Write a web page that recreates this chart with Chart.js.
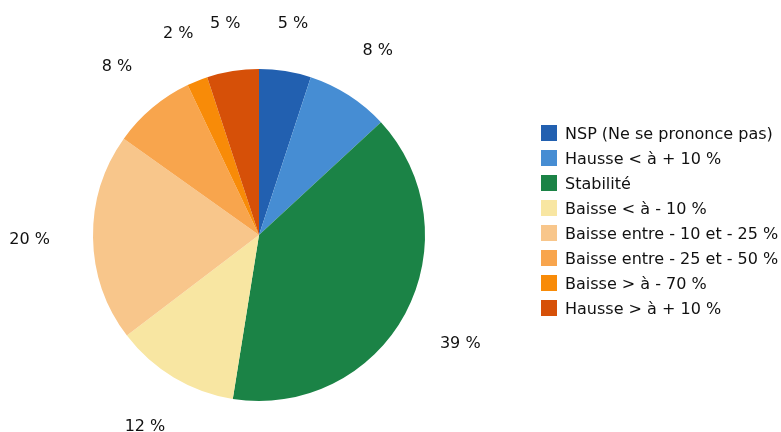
<!DOCTYPE html>
<html>
<head>
<meta charset="utf-8">
<script src="https://cdn.jsdelivr.net/npm/chart.js@4"></script>
<style>
    body { margin: 0; background: #fff; }
    #wrap { position: relative; width: 781px; height: 432px; }
    #pieChart { position: absolute; left: 0; top: 0; }
    #legend { position: absolute; left: 541px; top: 125px; margin: 0; padding: 0; list-style: none;
        font-family: "DejaVu Sans", sans-serif; font-size: 16px; color: #111; }
    #legend li { display: flex; align-items: center; height: 16px; margin-bottom: 9px; white-space: nowrap; }
    #legend .box { width: 16px; height: 16px; margin-right: 8px; flex: none; }
</style>
</head>
<body>
<div id="wrap">
    <canvas id="pieChart" width="781" height="432"></canvas>
    <ul id="legend"></ul>
</div>
<script>
const categories = [
    'NSP (Ne se prononce pas)',
    'Hausse < à + 10 %',
    'Stabilité',
    'Baisse < à - 10 %',
    'Baisse entre - 10 et - 25 %',
    'Baisse entre - 25 et - 50 %',
    'Baisse > à - 70 %',
    'Hausse > à + 10 %'
];
const shares = [5, 8, 39, 12, 20, 8, 2, 5];
const sliceColors = ['#2260b0', '#468dd3', '#1b8346', '#f8e6a2', '#f8c68b', '#f8a54d', '#f88b08', '#d65008'];

// percentage labels outside each slice
const outsideLabels = {
    id: 'outsideLabels',
    afterDatasetsDraw(chart) {
        const ctx = chart.ctx;
        const meta = chart.getDatasetMeta(0);
        ctx.save();
        ctx.font = '16px "DejaVu Sans", sans-serif';
        ctx.fillStyle = '#111';
        ctx.textAlign = 'center';
        ctx.textBaseline = 'middle';
        meta.data.forEach((arc, i) => {
            const p = arc.getProps(['x', 'y', 'startAngle', 'endAngle', 'outerRadius'], true);
            const mid = (p.startAngle + p.endAngle) / 2;
            const ux = Math.cos(mid);
            const uy = Math.sin(mid);
            const text = shares[i] + ' %';
            const w = ctx.measureText(text).width;
            const r = p.outerRadius + 43 + Math.abs(ux) * w / 2 + Math.abs(uy) * 3;
            ctx.fillText(text, p.x + ux * r, p.y + uy * r + 1);
        });
        ctx.restore();
    }
};

new Chart(document.getElementById('pieChart'), {
    type: 'pie',
    data: {
        labels: categories,
        datasets: [{
            data: shares,
            backgroundColor: sliceColors,
            borderWidth: 0
        }]
    },
    options: {
        responsive: false,
        animation: false,
        layout: { padding: { left: 93, right: 356, top: 69, bottom: 31 } },
        plugins: {
            legend: { display: false },
            tooltip: { enabled: false }
        }
    },
    plugins: [outsideLabels]
});

document.getElementById('legend').innerHTML = categories.map((c, i) =>
    `<li><span class="box" style="background:${sliceColors[i]}"></span>${c.replace(/</g, '&lt;').replace(/>/g, '&gt;')}</li>`
).join('');
</script>
</body>
</html>
